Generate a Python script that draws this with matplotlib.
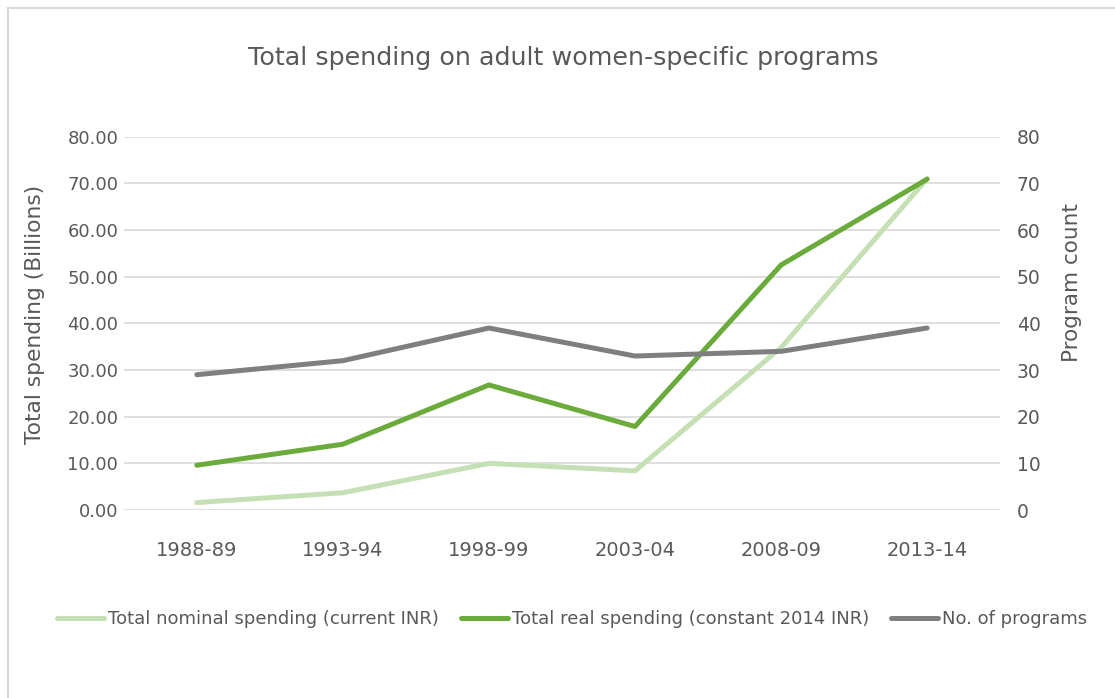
import matplotlib
matplotlib.use("Agg")
import matplotlib.pyplot as plt
from matplotlib.lines import Line2D
import numpy as np

# Fiscal years on the category axis
years = ["1988-89", "1993-94", "1998-99", "2003-04", "2008-09", "2013-14"]

# Spending in billions of INR
nominal_spending = [1.6, 3.7, 10.0, 8.4, 34.8, 71.0]
real_spending = [9.6, 14.1, 26.8, 17.9, 52.5, 70.9]

# Number of programs (right axis)
program_count = [29, 32, 39, 33, 34, 39]

TEXT = "#595959"
GRID = "#d9d9d9"
plt.rcParams["font.family"] = "DejaVu Sans"

fig = plt.figure(figsize=(11.15, 6.98), dpi=100)
ax1 = fig.add_axes([0.111, 0.2693, 0.786, 0.5349])
ax2 = ax1.twinx()

x = np.arange(len(years))

l1, = ax1.plot(x, nominal_spending, color="#c5e0b4", lw=3.6,
               solid_capstyle="round", solid_joinstyle="round",
               label="Total nominal spending (current INR)", zorder=3)
l2, = ax1.plot(x, real_spending, color="#6aab3b", lw=3.6,
               solid_capstyle="round", solid_joinstyle="round",
               label="Total real spending (constant 2014 INR)", zorder=4)
l3, = ax2.plot(x, program_count, color="#7f7f7f", lw=3.6,
               solid_capstyle="round", solid_joinstyle="round",
               label="No. of programs", zorder=5)

ticks = np.arange(0, 81, 10)
ax1.set_xlim(-0.5, len(years) - 0.5)
ax1.set_ylim(0, 80)
ax2.set_ylim(0, 80)
ax1.set_yticks(ticks)
ax2.set_yticks(ticks)
ax1.set_yticklabels([f"{v:.2f}" for v in ticks])
ax2.set_yticklabels([f"{v:d}" for v in ticks])
ax1.set_xticks(x)
ax1.set_xticklabels(years)

ax1.grid(axis="y", color=GRID, lw=1.2)
ax1.set_axisbelow(True)
for ax in (ax1, ax2):
    for s in ax.spines.values():
        s.set_visible(False)
    ax.tick_params(length=0, colors=TEXT, labelsize=13.5)

ax1.tick_params(axis="y", pad=4, labelsize=13)
ax2.tick_params(axis="y", pad=12)
ax1.tick_params(axis="x", pad=22, labelsize=14)

ax1.set_ylabel("Total spending (Billions)", fontsize=15.7, color=TEXT)
ax1.yaxis.set_label_coords(-0.09, 0.523)
ax2.set_ylabel("Program count", fontsize=15.5, color=TEXT)
ax2.yaxis.set_label_coords(1.071, 0.61)

fig.text(0.505, 0.917, "Total spending on adult women-specific programs",
         ha="center", va="center", fontsize=18.3, color=TEXT)

leg = fig.legend(handles=[l1, l2, l3], loc="center", ncol=3,
                 bbox_to_anchor=(0.513, 0.113), frameon=False,
                 handlelength=2.6, handletextpad=0.22, columnspacing=1.2,
                 prop={"size": 13})
for t in leg.get_texts():
    t.set_color(TEXT)

# light frame along the top and left edges
fig.add_artist(Line2D([8 / 1115, 8 / 1115], [0, 1 - 8 / 698],
                      transform=fig.transFigure, color=GRID, lw=1.5))
fig.add_artist(Line2D([8 / 1115, 1], [1 - 8 / 698, 1 - 8 / 698],
                      transform=fig.transFigure, color=GRID, lw=1.5))

fig.savefig("out.png", dpi=100)
